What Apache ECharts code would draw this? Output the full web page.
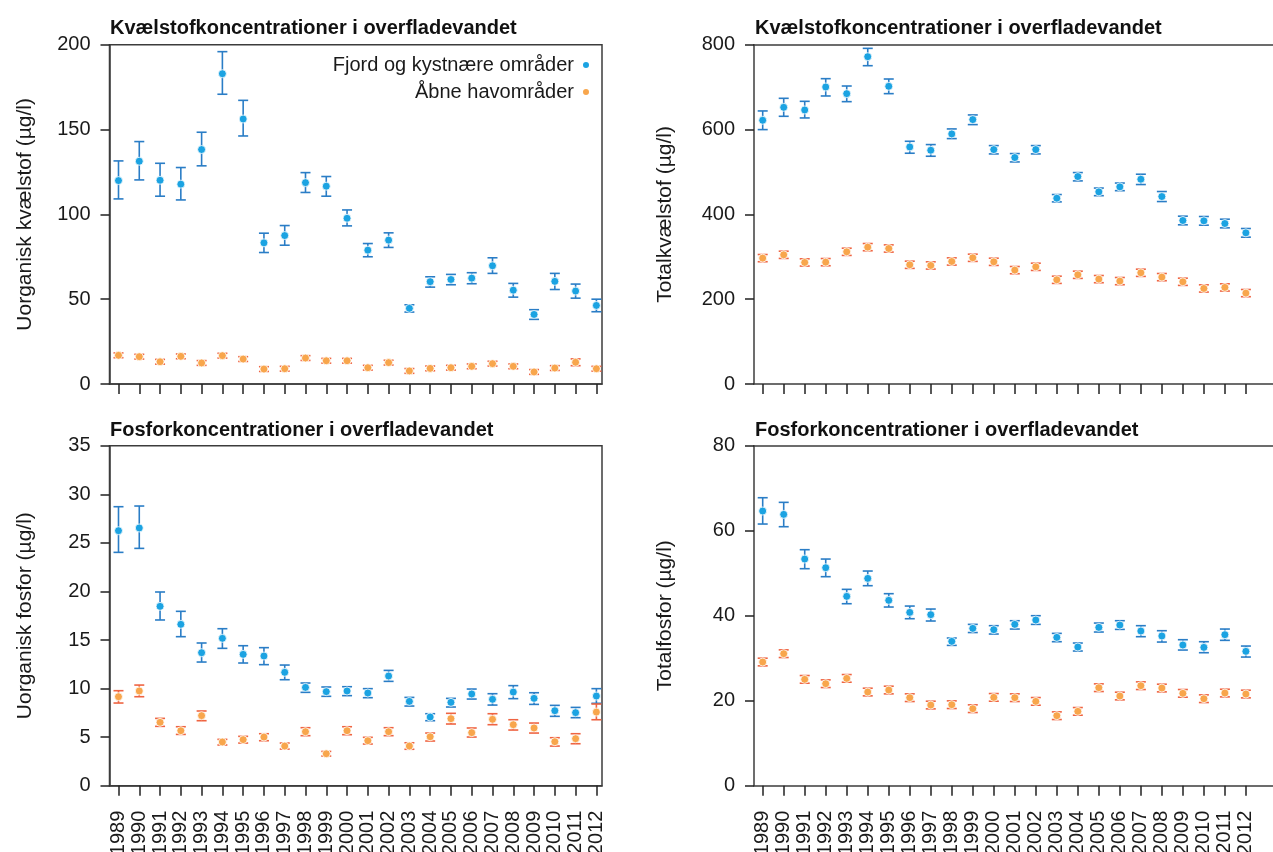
<!DOCTYPE html>
<html>
<head>
<meta charset="utf-8">
<style>
  html, body { margin: 0; padding: 0; background: #fff; }
  #chart { width: 1273px; height: 852px; }
</style>
<script src="https://cdn.jsdelivr.net/npm/echarts@6/dist/echarts.min.js"></script>
</head>
<body>
<div id="chart"></div>
<script>
// Years of monitoring
const years = [1989,1990,1991,1992,1993,1994,1995,1996,1997,1998,1999,2000,2001,2002,2003,2004,2005,2006,2007,2008,2009,2010,2011,2012];

// Uorganisk kvælstof (µg/l)
const fjordDIN     = [119.9,131.3,120.1,117.8,138.2,182.9,156.2,83.2,87.5,118.7,116.6,97.7,78.9,84.8,44.6,60.3,61.6,62.4,69.7,55.3,41.0,60.5,54.8,46.3];
const fjordDINLow  = [109.1,120.3,110.7,108.5,128.6,170.8,146.2,77.5,81.8,112.9,110.7,93.2,75.0,80.5,42.4,57.1,58.5,59.1,65.2,51.2,38.1,55.7,50.6,42.6];
const fjordDINHigh = [131.5,142.9,130.1,127.6,148.4,195.9,167.2,88.9,93.4,124.6,122.3,102.6,82.8,89.1,46.7,63.2,64.6,65.6,74.4,59.3,43.8,65.2,58.9,50.0];
const openDIN      = [16.9,16.1,13.1,16.3,12.4,16.7,14.7,8.8,9.0,15.3,13.7,13.7,9.6,12.6,7.7,9.2,9.6,10.4,12.0,10.4,7.1,9.4,12.8,9.0];
const openDINLow   = [15.5,14.7,11.7,14.9,11.0,15.3,13.3,7.4,7.6,13.9,12.3,12.3,8.2,11.2,6.3,7.8,8.2,9.0,10.6,9.0,5.7,8.0,10.8,7.6];
const openDINHigh  = [18.3,17.5,14.5,17.7,13.8,18.1,16.1,10.2,10.4,16.7,15.1,15.1,11.0,14.0,9.1,10.6,11.0,11.8,13.4,11.8,8.5,10.8,14.8,10.4];

// Totalkvælstof (µg/l)
const fjordTN      = [621.8,652.4,646.1,700.3,684.6,771.7,701.9,558.9,551.1,589.6,623.4,552.7,533.9,552.7,438.1,489.1,453.0,464.8,482.8,442.0,385.5,384.7,378.4,356.4];
const fjordTNLow   = [599.8,631.2,627.3,679.1,665.7,750.5,684.6,544.1,537.0,578.6,611.6,542.5,523.6,542.5,429.4,478.9,444.0,455.8,470.3,430.2,375.3,374.5,368.2,346.2];
const fjordTNHigh  = [643.8,673.6,666.5,719.9,702.6,791.4,719.1,572.3,564.5,601.4,634.4,562.1,543.3,562.1,446.7,498.5,462.0,473.8,494.6,453.8,395.7,394.9,388.6,366.6];
const openTN       = [296.8,304.6,286.6,287.3,311.7,322.7,319.5,281.1,279.5,288.9,297.6,288.1,268.5,276.3,245.7,257.5,247.3,242.6,262.2,252.0,241.0,225.3,227.7,214.3];
const openTNLow    = [288.3,296.1,278.1,278.8,303.2,314.2,311.0,272.6,271.0,280.4,289.1,279.6,260.0,267.8,237.2,249.0,238.8,234.1,253.7,243.5,232.5,216.8,219.2,205.8];
const openTNHigh   = [305.3,313.1,295.1,295.8,320.2,331.2,328.0,289.6,288.0,297.4,306.1,296.6,277.0,284.8,254.2,266.0,255.8,251.1,270.7,260.5,249.5,233.8,236.2,222.8];

// Uorganisk fosfor (µg/l)
const fjordDIP     = [26.25,26.53,18.46,16.61,13.69,15.17,13.52,13.35,11.67,10.12,9.68,9.75,9.54,11.29,8.68,7.07,8.58,9.44,8.89,9.64,8.99,7.72,7.52,9.23];
const fjordDIPLow  = [24.02,24.43,17.06,15.34,12.73,14.14,12.63,12.46,10.91,9.61,9.20,9.27,9.06,10.74,8.20,6.69,8.10,8.92,8.30,8.96,8.37,7.14,7.00,8.48];
const fjordDIPHigh = [28.72,28.79,19.94,17.95,14.69,16.16,14.41,14.21,12.42,10.57,10.16,10.19,9.99,11.87,9.09,7.41,8.99,9.95,9.47,10.30,9.57,8.27,8.06,9.99];
const openDIP      = [9.16,9.75,6.52,5.66,7.21,4.50,4.74,5.01,4.08,5.56,3.29,5.66,4.63,5.56,4.08,5.04,6.90,5.46,6.83,6.28,5.94,4.53,4.84,7.58];
const openDIPLow   = [8.51,9.16,6.11,5.28,6.69,4.19,4.39,4.63,3.77,5.15,3.05,5.25,4.29,5.15,3.75,4.60,6.35,5.01,6.28,5.73,5.42,4.08,4.32,6.79];
const openDIPHigh  = [9.78,10.36,6.93,6.07,7.69,4.77,5.08,5.35,4.39,5.97,3.53,6.07,4.98,5.97,4.42,5.42,7.45,5.94,7.41,6.79,6.45,4.94,5.35,8.41];

// Totalfosfor (µg/l)
const fjordTP      = [64.63,63.84,53.33,51.29,44.55,48.78,43.61,40.78,40.24,33.96,37.02,36.71,37.96,38.98,34.90,32.63,37.25,37.80,36.39,35.22,33.10,32.55,35.53,31.61];
const fjordTPLow   = [61.57,60.94,51.06,49.18,42.82,47.06,42.04,39.29,38.75,33.02,36.04,35.69,36.86,37.96,33.88,31.69,36.16,36.78,35.06,33.80,31.92,31.29,34.20,30.27];
const fjordTPHigh  = [67.76,66.67,55.53,53.33,46.20,50.51,45.18,42.27,41.57,34.75,37.96,37.65,38.82,40.00,35.84,33.57,38.27,38.82,37.65,36.47,34.35,33.88,36.86,32.86];
const openTP       = [29.10,31.06,25.02,24.00,25.25,22.04,22.51,20.71,18.98,19.06,18.12,20.78,20.71,19.84,16.47,17.49,23.06,21.10,23.53,22.98,21.73,20.47,21.80,21.57];
const openTPLow    = [28.20,30.16,24.12,23.10,24.35,21.14,21.61,19.81,18.08,18.16,17.22,19.88,19.81,18.94,15.57,16.59,22.16,20.20,22.63,22.08,20.83,19.57,20.90,20.67];
const openTPHigh   = [30.00,31.96,25.92,24.90,26.15,22.94,23.41,21.61,19.88,19.96,19.02,21.68,21.61,20.74,17.37,18.39,23.96,22.00,24.43,23.88,22.63,21.37,22.70,22.47];

// Series names and panel texts
const nameFjord = 'Fjord og kystnære områder';
const nameOpen = 'Åbne havområder';
const titleN = 'Kvælstofkoncentrationer i overfladevandet';
const titleP = 'Fosforkoncentrationer i overfladevandet';
const yNames = ['Uorganisk kvælstof (µg/l)', 'Totalkvælstof (µg/l)', 'Uorganisk fosfor (µg/l)', 'Totalfosfor (µg/l)'];
const yMax = [200, 800, 35, 80];
const yStep = [50, 200, 5, 20];

const FONT = '"Liberation Sans", Arial, Helvetica, sans-serif';
const AXIS = '#3c3c3c';
const TEXT = '#1a1a1a';
const BLUE_DOT = '#1ba3e2';
const BLUE_BAR = '#2a7dc6';
const ORANGE_DOT = '#f8a64c';
const ORANGE_BAR = '#ef6442';

const panels = [
  { fjord: [fjordDIN, fjordDINLow, fjordDINHigh], open: [openDIN, openDINLow, openDINHigh] },
  { fjord: [fjordTN, fjordTNLow, fjordTNHigh],   open: [openTN, openTNLow, openTNHigh] },
  { fjord: [fjordDIP, fjordDIPLow, fjordDIPHigh], open: [openDIP, openDIPLow, openDIPHigh] },
  { fjord: [fjordTP, fjordTPLow, fjordTPHigh],   open: [openTP, openTPLow, openTPHigh] }
];

// Left panels are fully framed; right panels run off the right edge (top + left + bottom lines only)
const grids = [
  { left: 109.5, top: 44.7, right: 671, bottom: 468, show: true },
  { left: 754, top: 44.7, right: 0, bottom: 468, show: false },
  { left: 109.5, top: 445.7, right: 671, bottom: 66.3, show: true },
  { left: 754, top: 445.7, right: 0, bottom: 66.3, show: false }
].map(g => Object.assign(g, {
  borderColor: AXIS,
  borderWidth: 1.5,
  backgroundColor: 'transparent',
  containLabel: false,
  outerBoundsMode: 'none'
}));

const xRanges = [
  [1988.567, 2012.27],
  [1988.586, 2013.29],
  [1988.567, 2012.27],
  [1988.586, 2013.29]
];

const xAxes = xRanges.map((r, i) => ({
  type: 'value',
  gridIndex: i,
  min: r[0],
  max: r[1],
  splitLine: { show: false },
  axisLine: { lineStyle: { color: AXIS, width: 1.5 } },
  axisTick: { length: 10, lineStyle: { color: '#222', width: 1.5 }, customValues: years },
  axisLabel: {
    show: i >= 2,
    customValues: years,
    rotate: 90,
    margin: 25,
    fontSize: 20,
    fontFamily: FONT,
    color: TEXT,
    formatter: v => String(v)
  }
}));

// Top frame line for the two right-hand panels
[1, 3].forEach(i => {
  xAxes.push({
    type: 'value',
    gridIndex: i,
    position: 'top',
    min: xRanges[i][0],
    max: xRanges[i][1],
    splitLine: { show: false },
    axisLine: { show: true, lineStyle: { color: AXIS, width: 1.5 } },
    axisTick: { show: false },
    axisLabel: { show: false }
  });
});

const yAxes = yMax.map((m, i) => ({
  type: 'value',
  gridIndex: i,
  min: 0,
  max: m,
  interval: yStep[i],
  name: yNames[i],
  nameLocation: 'middle',
  nameRotate: 90,
  nameGap: i % 2 === 0 ? 74 : 78,
  nameTextStyle: { fontSize: 21, fontFamily: FONT, color: TEXT },
  splitLine: { show: false },
  axisLine: { show: true, lineStyle: { color: AXIS, width: 1.5 } },
  axisTick: { show: true, length: 9, lineStyle: { color: '#222', width: 1.5 } },
  axisLabel: { margin: 19, fontSize: 20, fontFamily: FONT, color: TEXT }
}));

// Vertical error bar with caps, from low to high
function errorBars(barColor) {
  return function (params, api) {
    const x = api.value(0);
    const lo = api.coord([x, api.value(1)]);
    const hi = api.coord([x, api.value(2)]);
    const hw = 5;
    const style = { stroke: barColor, lineWidth: 1.6 };
    return {
      type: 'group',
      children: [
        { type: 'line', shape: { x1: lo[0], y1: lo[1], x2: hi[0], y2: hi[1] }, style },
        { type: 'line', shape: { x1: hi[0] - hw, y1: hi[1], x2: hi[0] + hw, y2: hi[1] }, style },
        { type: 'line', shape: { x1: lo[0] - hw, y1: lo[1], x2: lo[0] + hw, y2: lo[1] }, style }
      ]
    };
  };
}

const series = [];
panels.forEach((p, i) => {
  [['fjord', nameFjord, BLUE_DOT, BLUE_BAR], ['open', nameOpen, ORANGE_DOT, ORANGE_BAR]].forEach(([key, name, dot, bar]) => {
    const [mean, low, high] = p[key];
    series.push({
      type: 'custom',
      xAxisIndex: i,
      yAxisIndex: i,
      renderItem: errorBars(bar),
      encode: { x: 0, y: [1, 2] },
      data: years.map((yr, k) => [yr, low[k], high[k]]),
      silent: true,
      z: 2
    });
    series.push({
      type: 'scatter',
      name: name,
      xAxisIndex: i,
      yAxisIndex: i,
      symbol: 'circle',
      symbolSize: 8,
      itemStyle: { color: dot, borderColor: '#ffffff', borderWidth: 0.8, opacity: 1 },
      data: years.map((yr, k) => [yr, mean[k]]),
      z: 3
    });
  });
});

const titles = [
  { text: titleN, left: 110, top: 18 },
  { text: titleN, left: 755, top: 18 },
  { text: titleP, left: 110, top: 420 },
  { text: titleP, left: 755, top: 420 }
].map(t => Object.assign(t, {
  padding: 0,
  textStyle: { fontSize: 20, fontWeight: 'bold', fontFamily: FONT, color: '#111' }
}));

const chart = echarts.init(document.getElementById('chart'), null, { renderer: 'canvas' });
chart.setOption({
  animation: false,
  backgroundColor: '#ffffff',
  title: titles,
  legend: {
    data: [nameFjord, nameOpen],
    orient: 'vertical',
    align: 'right',
    right: 682,
    top: 55,
    padding: 0,
    itemGap: 7,
    itemWidth: 8,
    itemHeight: 8,
    icon: 'circle',
    textStyle: { fontSize: 20, fontFamily: FONT, color: TEXT, padding: [0, 3, 0, 0] },
    selectedMode: false
  },
  grid: grids,
  xAxis: xAxes,
  yAxis: yAxes,
  series: series
});
</script>
</body>
</html>
